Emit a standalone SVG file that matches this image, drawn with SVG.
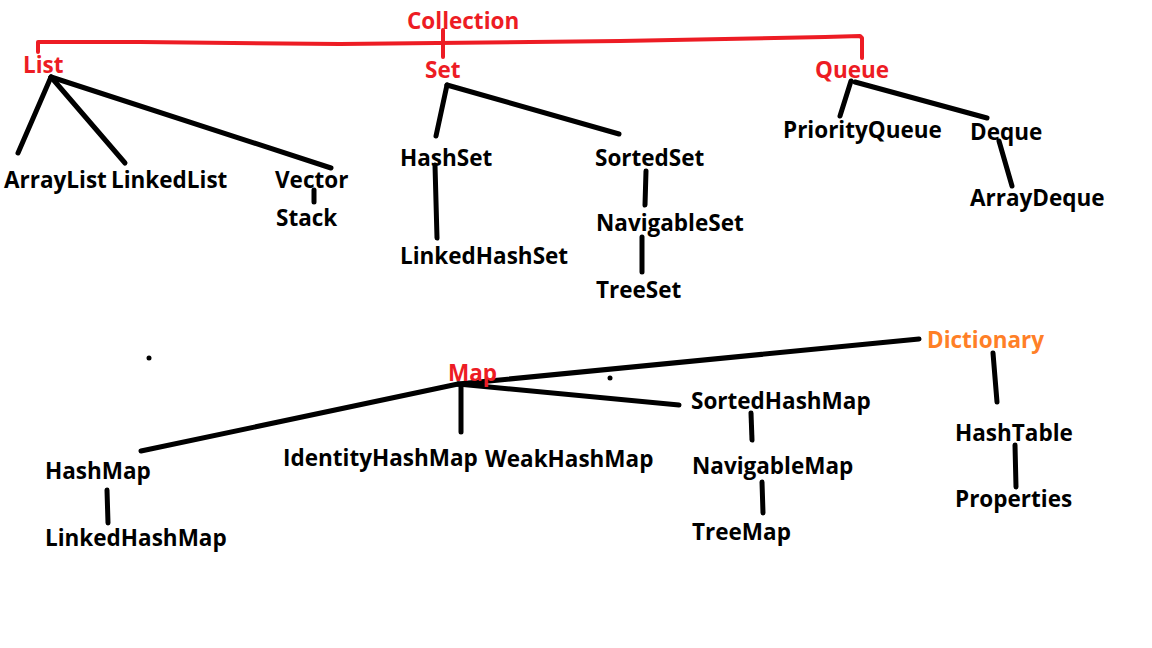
<svg xmlns="http://www.w3.org/2000/svg" width="1152" height="648" viewBox="0 0 1152 648">
<style>
text{font-family:"Open Sans","Noto Sans","DejaVu Sans",sans-serif;font-weight:700;font-size:22.5px;fill:#000}
.r{fill:#ed1c24}
.o{fill:#ff7f27}
.c line,.c polyline{stroke:#000;stroke-width:5;stroke-linecap:round;fill:none}
.c .red{stroke:#ed1c24;stroke-width:4;stroke-linejoin:round}
</style>
<rect width="1152" height="648" fill="#fff"/>
<g class="c" id="connectors">
<polyline class="red" points="38,52 38,42 140,42 340,44 620,41 825,37 860,36 862,38 862,58"/>
<line class="red" x1="443" y1="30" x2="443" y2="57"/>
<line x1="51" y1="77" x2="18" y2="153"/>
<line x1="51" y1="77" x2="125" y2="163"/>
<line x1="51" y1="77" x2="331" y2="168"/>
<line x1="314" y1="190" x2="314" y2="202"/>
<line x1="447" y1="85" x2="436" y2="136"/>
<line x1="447" y1="85" x2="619" y2="134"/>
<line x1="435" y1="165" x2="437" y2="238"/>
<line x1="646" y1="171" x2="645" y2="205"/>
<line x1="642" y1="237" x2="642" y2="272"/>
<line x1="851" y1="81" x2="840" y2="116"/>
<line x1="855" y1="82" x2="987" y2="118"/>
<line x1="999" y1="141" x2="1012" y2="186"/>
<line x1="919" y1="339" x2="458" y2="384"/>
<line x1="458" y1="384" x2="141" y2="451"/>
<line x1="461" y1="385" x2="461" y2="432"/>
<line x1="458" y1="384" x2="679" y2="405"/>
<line x1="751" y1="413" x2="752" y2="440"/>
<line x1="762" y1="482" x2="763" y2="513"/>
<line x1="107" y1="490" x2="108" y2="523"/>
<line x1="993" y1="353" x2="997" y2="402"/>
<line x1="1015" y1="445" x2="1016" y2="487"/>
<circle cx="149" cy="358" r="2.5" fill="#000"/>
<circle cx="610" cy="378" r="2.5" fill="#000"/>
</g>
<g id="collection"><text class="r" x="407" y="29">Collection</text></g>
<g id="list"><text class="r" x="23" y="73">List</text></g>
<g id="set"><text class="r" x="425" y="78">Set</text></g>
<g id="queue"><text class="r" x="815" y="78">Queue</text></g>
<g id="arraylist"><text x="4" y="188">ArrayList</text></g>
<g id="linkedlist"><text x="111" y="188">LinkedList</text></g>
<g id="vector"><text x="275" y="188">Vector</text></g>
<g id="stack"><text x="276" y="226">Stack</text></g>
<g id="hashset"><text x="400" y="166">HashSet</text></g>
<g id="sortedset"><text x="595" y="166">SortedSet</text></g>
<g id="linkedhashset"><text x="400" y="264">LinkedHashSet</text></g>
<g id="navigableset"><text x="596" y="231">NavigableSet</text></g>
<g id="treeset"><text x="596" y="298">TreeSet</text></g>
<g id="priorityqueue"><text x="783" y="138">PriorityQueue</text></g>
<g id="deque"><text x="970" y="140">Deque</text></g>
<g id="arraydeque"><text x="970" y="206">ArrayDeque</text></g>
<g id="dictionary"><text class="o" x="927" y="348">Dictionary</text></g>
<g id="map"><text class="r" x="448" y="381">Map</text></g>
<g id="hashmap"><text x="45" y="479">HashMap</text></g>
<g id="linkedhashmap"><text x="45" y="546">LinkedHashMap</text></g>
<g id="identityhashmap"><text x="283" y="466">IdentityHashMap</text></g>
<g id="weakhashmap"><text x="485" y="467">WeakHashMap</text></g>
<g id="sortedhashmap"><text x="691" y="409">SortedHashMap</text></g>
<g id="navigablemap"><text x="692" y="474">NavigableMap</text></g>
<g id="treemap"><text x="692" y="540">TreeMap</text></g>
<g id="hashtable"><text x="955" y="441">HashTable</text></g>
<g id="properties"><text x="955" y="507">Properties</text></g>
</svg>
